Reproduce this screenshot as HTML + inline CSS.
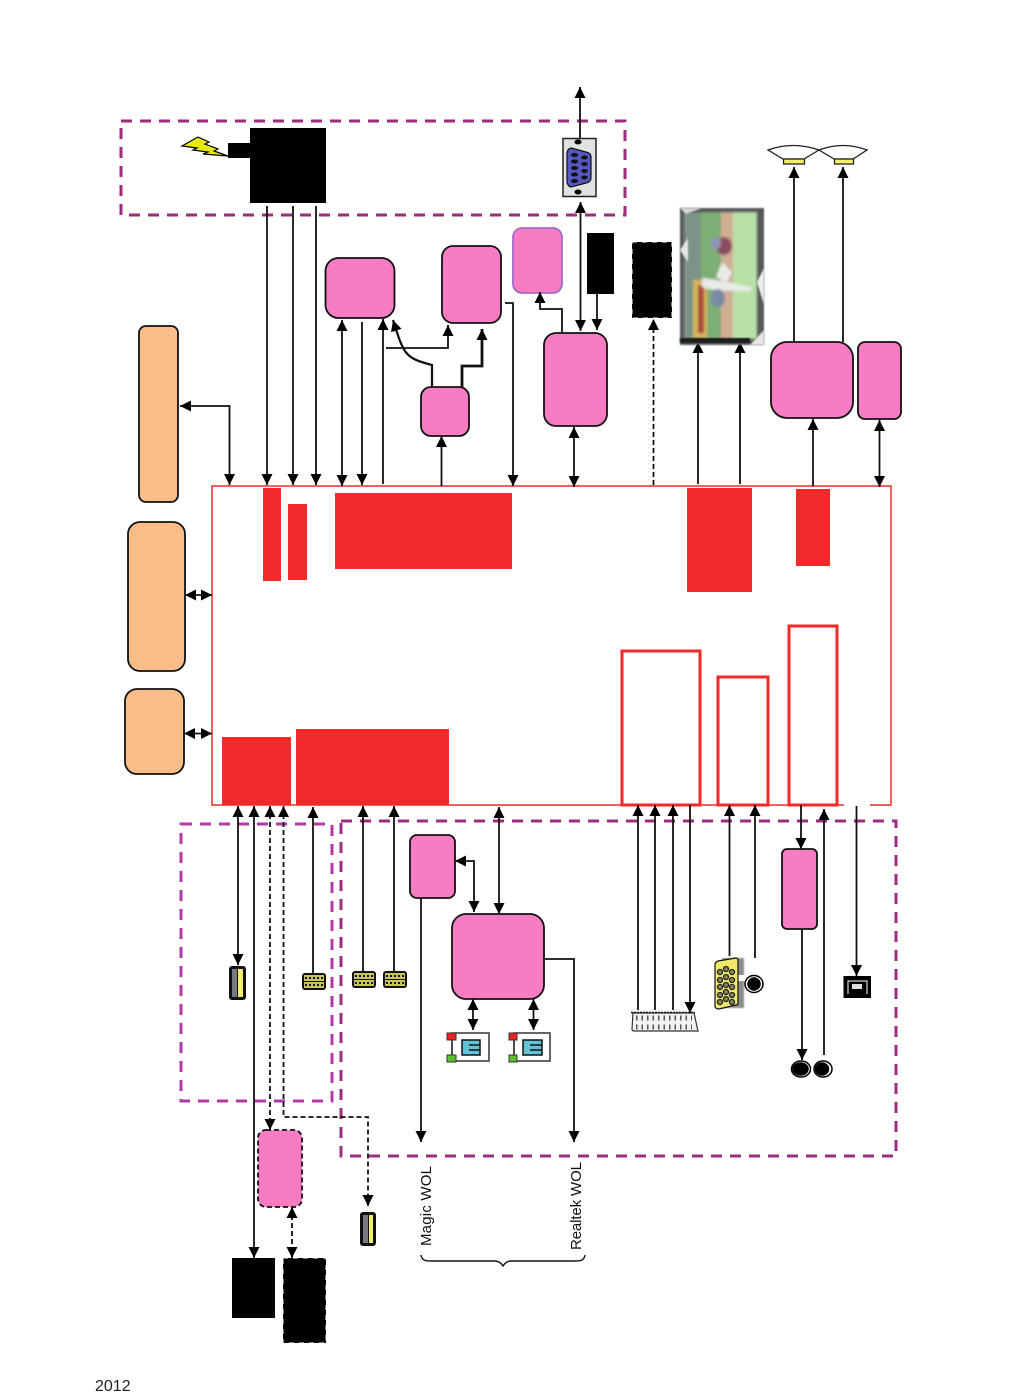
<!DOCTYPE html>
<html>
<head>
<meta charset="utf-8">
<style>
html,body{margin:0;padding:0;background:#fff}
svg{display:block}
text{font-family:"Liberation Sans",sans-serif}
</style>
</head>
<body>
<svg width="1021" height="1392" viewBox="0 0 1021 1392" xmlns="http://www.w3.org/2000/svg">
<defs>
<marker id="a" markerUnits="userSpaceOnUse" markerWidth="12" markerHeight="12" refX="11" refY="5.500" orient="auto-start-reverse"><path d="M0 0L11 5.500L0 11Z" fill="#000"/></marker>
<filter id="b" x="-20%" y="-20%" width="140%" height="140%"><feGaussianBlur stdDeviation="1.300"/></filter>
<filter id="c" x="-10%" y="-10%" width="120%" height="120%"><feGaussianBlur stdDeviation="0.800"/></filter>
</defs>
<rect width="1021" height="1392" fill="#fff"/>

<!-- dashed containers -->
<g fill="none" stroke-width="3" stroke-dasharray="11 8">
<rect x="121" y="121" width="504" height="94" stroke="#9b2d7f"/>
<rect x="181" y="824" width="151" height="277" stroke="#b03aa5"/>
<rect x="341" y="821" width="555" height="335" stroke="#9b2d7f"/>
</g>

<!-- main board -->
<rect x="212" y="486" width="679" height="319" fill="none" stroke="#ee2a2a" stroke-width="1.500"/>
<rect x="844" y="803" width="26" height="4" fill="#fff"/>
<g fill="#f02a2a">
<rect x="263" y="488" width="18" height="93"/>
<rect x="288" y="504" width="19" height="76"/>
<rect x="335" y="493" width="177" height="76"/>
<rect x="687" y="488" width="65" height="104"/>
<rect x="796" y="489" width="34" height="77"/>
<rect x="222" y="737" width="69" height="68"/>
<rect x="296" y="729" width="153" height="76"/>
</g>
<g fill="none" stroke="#ee2a2a" stroke-width="3">
<rect x="622" y="651" width="78" height="154"/>
<rect x="718" y="677" width="50" height="128"/>
<rect x="789" y="626" width="48" height="179"/>
</g>

<!-- orange -->
<g fill="#fbbd87" stroke="#111" stroke-width="1.800">
<rect x="139" y="326" width="39" height="176" rx="7"/>
<rect x="128" y="522" width="57" height="149" rx="12"/>
<rect x="125" y="689" width="59" height="85" rx="12"/>
</g>

<!-- pink -->
<g fill="#f87cc2" stroke="#111" stroke-width="1.800">
<rect x="325.500" y="258" width="69" height="60" rx="13"/>
<rect x="442" y="246" width="59" height="77" rx="11"/>
<rect x="544" y="333" width="63" height="93" rx="12"/>
<rect x="421" y="387" width="48" height="49" rx="10"/>
<rect x="771" y="342" width="82" height="76" rx="16"/>
<rect x="858" y="342" width="43" height="77" rx="7"/>
<rect x="410" y="835" width="45" height="63" rx="7"/>
<rect x="452" y="914" width="92" height="85" rx="14"/>
<rect x="782" y="849" width="35" height="80" rx="5"/>
<rect x="258" y="1130" width="44" height="77" rx="8" stroke-dasharray="5 3"/>
</g>
<rect x="513" y="228" width="49" height="65" rx="9" fill="#f87cc2" stroke="#a06cc8" stroke-width="1.800"/>

<!-- black -->
<g fill="#000">
<rect x="250" y="128" width="76" height="75"/>
<rect x="228" y="143" width="22" height="15"/>
<rect x="587" y="233" width="27" height="61"/>
<rect x="632" y="242" width="40" height="76"/>
<rect x="232" y="1258" width="43" height="60"/>
<rect x="283" y="1258" width="43" height="85"/>
</g>
<g fill="none" stroke="#fff" stroke-width="1" stroke-dasharray="5 5">
<rect x="632" y="242" width="40" height="76"/>
<rect x="283" y="1258" width="43" height="85"/>
</g>
<polygon points="182,146 198,137 209,142 205,144 218,149 214,151 228,156 203,154 208,152 193,150 197,148" fill="#e8e813" stroke="#000" stroke-width="1.200"/>

<!-- connectors -->
<g fill="none" stroke="#111" stroke-width="1.800">
<path d="M267 206V485" marker-end="url(#a)"/>
<path d="M293 206V485" marker-end="url(#a)"/>
<path d="M316 206V485" marker-end="url(#a)"/>
<path d="M580 138V87" marker-end="url(#a)"/>
<path d="M580.500 202V331" marker-start="url(#a)" marker-end="url(#a)"/>
<path d="M597 294V330" marker-end="url(#a)"/>
<path d="M653.500 485V319" stroke-dasharray="5 3" marker-end="url(#a)"/>
<path d="M698 484V342" marker-end="url(#a)"/>
<path d="M740 484V342" marker-end="url(#a)"/>
<path d="M794 342V167" marker-end="url(#a)"/>
<path d="M843 342V167" marker-end="url(#a)"/>
<path d="M813 486V419" marker-end="url(#a)"/>
<path d="M879.500 420V487" marker-start="url(#a)" marker-end="url(#a)"/>
<path d="M574 427V487" marker-start="url(#a)" marker-end="url(#a)"/>
<path d="M505 303H513V486" marker-end="url(#a)"/>
<path d="M562 333V309H540V292" marker-end="url(#a)"/>
<path d="M441.500 486V436" marker-end="url(#a)"/>
<path d="M342 320V486" marker-start="url(#a)" marker-end="url(#a)"/>
<path d="M362 322V485" marker-end="url(#a)"/>
<path d="M383 484V319" marker-end="url(#a)"/>
<path d="M432 387V365C405 358 404 355 393 320" stroke-width="2.200" marker-end="url(#a)"/>
<path d="M386 348H448V325" marker-end="url(#a)"/>
<path d="M462 387V366H482V329" stroke-width="2.800" marker-end="url(#a)"/>
<path d="M180 406H229.500V485" marker-start="url(#a)" marker-end="url(#a)"/>
<path d="M185 595H212" marker-start="url(#a)" marker-end="url(#a)"/>
<path d="M184 733.500H212" marker-start="url(#a)" marker-end="url(#a)"/>
<path d="M238 806V965" marker-start="url(#a)" marker-end="url(#a)"/>
<path d="M254 806V1258" marker-start="url(#a)" marker-end="url(#a)"/>
<path d="M270 806V1130" stroke-dasharray="5 3" marker-start="url(#a)" marker-end="url(#a)"/>
<path d="M283.500 806V1117H368V1206" stroke-dasharray="5 3" marker-start="url(#a)" marker-end="url(#a)"/>
<path d="M313 975V807" marker-end="url(#a)"/>
<path d="M363 972V806" marker-end="url(#a)"/>
<path d="M394 972V806" marker-end="url(#a)"/>
<path d="M499 807V914" marker-start="url(#a)" marker-end="url(#a)"/>
<path d="M455 861H474V912" marker-start="url(#a)" marker-end="url(#a)"/>
<path d="M421 898V1142" marker-end="url(#a)"/>
<path d="M545 959H574V1142" marker-end="url(#a)"/>
<path d="M473 999V1030" marker-start="url(#a)" marker-end="url(#a)"/>
<path d="M533.500 999V1030" marker-start="url(#a)" marker-end="url(#a)"/>
<path d="M638 1010V805" marker-end="url(#a)"/>
<path d="M655 1010V805" marker-end="url(#a)"/>
<path d="M673 1010V805" marker-end="url(#a)"/>
<path d="M690 805V1013" marker-end="url(#a)"/>
<path d="M729.500 956V805" marker-end="url(#a)"/>
<path d="M755 958V805" marker-end="url(#a)"/>
<path d="M801 805V849" marker-end="url(#a)"/>
<path d="M802 929V1060" marker-end="url(#a)"/>
<path d="M824 1055V809" marker-end="url(#a)"/>
<path d="M856.500 806V976" marker-end="url(#a)"/>
<path d="M292 1207V1258" stroke-dasharray="5 3" marker-start="url(#a)" marker-end="url(#a)"/>
</g>

<!-- TV -->
<g>
<rect x="680" y="208" width="84" height="137" fill="#55595b" filter="url(#c)"/>
<g filter="url(#b)">
<rect x="684" y="212" width="17" height="127" fill="#7b9487"/>
<rect x="701" y="212" width="20" height="127" fill="#7cae74"/>
<rect x="721" y="212" width="12" height="127" fill="#cfae94"/>
<rect x="733" y="212" width="24" height="127" fill="#b9e0a6"/>
<rect x="693" y="280" width="14" height="58" fill="#d6b45a"/>
<rect x="698" y="285" width="6" height="48" fill="#a9483e"/>
<ellipse cx="724" cy="246" rx="8" ry="9" fill="#8a4f62"/>
<ellipse cx="716" cy="243" rx="5" ry="6" fill="#8f94b8"/>
<path d="M702 278C715 279 735 284 752 287L750 291C728 291 712 291 702 287Z" fill="#e9ebe6"/>
<path d="M722 262L732 272L727 283L716 277Z" fill="#e9ebe6"/>
<ellipse cx="718" cy="298" rx="7" ry="9" fill="#7d88a6"/>
</g>
<g filter="url(#c)">
<path d="M680 250L688 238V262Z" fill="#e6e6e6"/>
<path d="M764 268L757 282L764 305Z" fill="#ececec"/>
<path d="M680 208H702L686 214Z" fill="#d8d8d8"/>
<path d="M750 345L764 330V345Z" fill="#e6e6e6"/>
</g>
<rect x="680" y="338" width="70" height="5" fill="#1a1a1a" filter="url(#c)"/>
</g>

<!-- speakers -->
<g stroke="#222" stroke-width="1.300">
<path d="M768 150Q793 141 819 150L804 159H783Z" fill="#fff"/>
<path d="M819 150Q843 141 867 150L853 159H834Z" fill="#fff"/>
<rect x="783.500" y="159" width="21" height="5" fill="#f4ee6a"/>
<rect x="834.500" y="159" width="19" height="5" fill="#f4ee6a"/>
</g>

<!-- DB9 -->
<rect x="563" y="138.500" width="33" height="58" fill="#e0e2e0" stroke="#222" stroke-width="1.500"/>
<ellipse cx="578" cy="142" rx="3.500" ry="2.500" fill="#000"/>
<ellipse cx="578" cy="192" rx="3.500" ry="2.500" fill="#000"/>
<path d="M571 148L586 152Q591 153 591 157V178Q591 182 586 183L571 187Q567 186 567 181V154Q567 149 571 148Z" fill="#5457bd" stroke="#111" stroke-width="1.200"/>
<g fill="#111">
<ellipse cx="574.500" cy="155" rx="3.500" ry="2"/><ellipse cx="574.500" cy="161.500" rx="3.500" ry="2"/><ellipse cx="574.500" cy="168" rx="3.500" ry="2"/><ellipse cx="574.500" cy="174.500" rx="3.500" ry="2"/><ellipse cx="574.500" cy="181" rx="3.500" ry="2"/>
<ellipse cx="584.500" cy="157.500" rx="3.200" ry="2"/><ellipse cx="584.500" cy="164" rx="3.200" ry="2"/><ellipse cx="584.500" cy="171" rx="3.200" ry="2"/><ellipse cx="584.500" cy="177.500" rx="3.200" ry="2"/>
</g>

<!-- USB -->
<g>
<rect x="229" y="966" width="17" height="34" rx="3" fill="#111"/>
<rect x="232" y="969" width="5" height="28" fill="#777a80"/>
<rect x="238" y="969" width="5" height="28" fill="#f2ee6e"/>
<rect x="360" y="1212" width="16" height="34" rx="3" fill="#111"/>
<rect x="363" y="1215" width="5" height="28" fill="#777a80"/>
<rect x="369" y="1215" width="4" height="28" fill="#f2ee6e"/>
</g>

<!-- headers -->
<g>
<rect x="302" y="973" width="24" height="17" rx="3" fill="#111"/>
<rect x="304" y="975" width="20" height="13" fill="#c9c456"/>
<path d="M305 978H323M305 985H323" stroke="#111" stroke-width="2" stroke-dasharray="2 2"/>
<path d="M304 981.500H324" stroke="#111" stroke-width="1"/>
<rect x="352" y="971" width="24" height="17" rx="3" fill="#111"/>
<rect x="354" y="973" width="20" height="13" fill="#c9c456"/>
<path d="M355 976H373M355 983H373" stroke="#111" stroke-width="2" stroke-dasharray="2 2"/>
<path d="M354 979.500H374" stroke="#111" stroke-width="1"/>
<rect x="383" y="971" width="24" height="17" rx="3" fill="#111"/>
<rect x="385" y="973" width="20" height="13" fill="#c9c456"/>
<path d="M386 976H404M386 983H404" stroke="#111" stroke-width="2" stroke-dasharray="2 2"/>
<path d="M385 979.500H405" stroke="#111" stroke-width="1"/>
</g>

<!-- LAN -->
<g>
<rect x="452" y="1033" width="37" height="28" fill="#fff" stroke="#333" stroke-width="1.500"/>
<rect x="462" y="1040" width="18" height="15" fill="#62c3d8" stroke="#111" stroke-width="1.500"/>
<path d="M469 1045H480M469 1050H480" stroke="#111" stroke-width="1.500"/>
<path d="M452 1040V1056" stroke="#333" stroke-width="1.500"/>
<rect x="447" y="1033" width="9" height="7" fill="#ee2020" stroke="#333"/>
<rect x="447" y="1055" width="9" height="7" fill="#5cbf2a" stroke="#333"/>
<rect x="514" y="1033" width="36" height="28" fill="#fff" stroke="#333" stroke-width="1.500"/>
<rect x="523" y="1040" width="19" height="15" fill="#62c3d8" stroke="#111" stroke-width="1.500"/>
<path d="M530 1045H542M530 1050H542" stroke="#111" stroke-width="1.500"/>
<path d="M514 1040V1056" stroke="#333" stroke-width="1.500"/>
<rect x="509" y="1033" width="8" height="7" fill="#ee2020" stroke="#333"/>
<rect x="509" y="1055" width="8" height="7" fill="#5cbf2a" stroke="#333"/>
</g>

<!-- SCART -->
<path d="M633 1013H694L698 1031H634Q632 1031 632 1029Z" fill="#f2f2f2" stroke="#333" stroke-width="1.200"/>
<path d="M636 1018H692M636 1027H692" stroke="#555" stroke-width="5" stroke-dasharray="1.500 4"/>
<path d="M631 1012.500H695" stroke="#111" stroke-width="1.500" stroke-dasharray="2 1"/>

<!-- VGA -->
<rect x="722" y="958" width="22" height="50" fill="#8a8c8e" filter="url(#c)"/>
<rect x="738" y="975" width="8" height="6" fill="#fff"/>
<path d="M718 961L736 958Q738 958 738 961V1003Q738 1005 736 1005L719 1009Q715 1009 715 1006V965Q715 962 718 961Z" fill="#f0e868" stroke="#111" stroke-width="1.200"/>
<g fill="#8a8a60" stroke="#222" stroke-width="1.300">
<circle cx="720" cy="972" r="2.500"/><circle cx="720" cy="980" r="2.500"/><circle cx="720" cy="987" r="2.500"/><circle cx="720" cy="995" r="2.500"/><circle cx="720" cy="1002" r="2.500"/>
<circle cx="726" cy="969" r="2.500"/><circle cx="726" cy="977" r="2.500"/><circle cx="726" cy="985" r="2.500"/><circle cx="726" cy="992" r="2.500"/><circle cx="726" cy="999" r="2.500"/>
<circle cx="732" cy="972" r="2.500"/><circle cx="732" cy="980" r="2.500"/><circle cx="732" cy="987" r="2.500"/><circle cx="732" cy="995" r="2.500"/><circle cx="732" cy="1002" r="2.500"/>
</g>

<!-- jacks -->
<g fill="#000" stroke="#000" stroke-width="1.500">
<ellipse cx="754" cy="984" rx="9" ry="8.500" fill="#fff"/>
<ellipse cx="754" cy="984" rx="6" ry="6"/>
<ellipse cx="801" cy="1069" rx="9.500" ry="8" fill="#fff"/>
<ellipse cx="800.500" cy="1069" rx="7.500" ry="6"/>
<ellipse cx="823" cy="1069" rx="9" ry="8" fill="#fff"/>
<ellipse cx="822" cy="1069" rx="6.500" ry="6"/>
</g>

<!-- square port -->
<rect x="843.500" y="976" width="27.500" height="22" fill="#000"/>
<path d="M848 994V981H867V994" fill="none" stroke="#fff" stroke-width="1"/>
<rect x="852" y="984" width="10" height="5" fill="#ddd"/>

<!-- labels -->
<text transform="translate(431 1246) rotate(-90)" font-size="15" fill="#111" textLength="80">Magic WOL</text>
<text transform="translate(581 1250) rotate(-90)" font-size="15" fill="#111" textLength="88">Realtek WOL</text>
<path d="M421 1255C422 1261 426 1261 432 1261H494C499 1261 501 1263 503 1266C505 1263 507 1261 512 1261H574C580 1261 584 1261 585 1255" fill="none" stroke="#111" stroke-width="1.400"/>
<text x="95" y="1391" font-size="16" fill="#222">2012</text>
</svg>
</body>
</html>
